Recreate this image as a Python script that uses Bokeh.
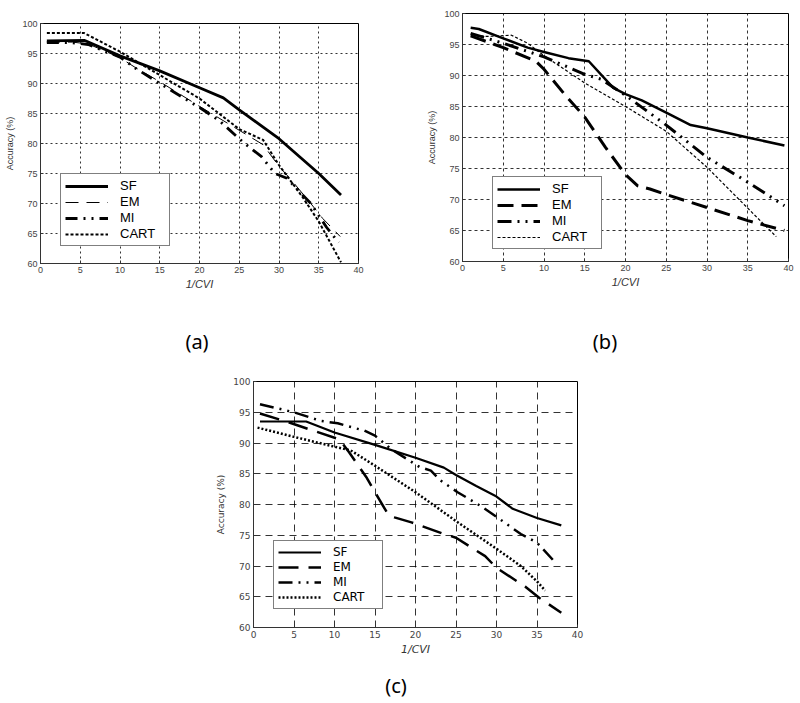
from bokeh.plotting import figure
from bokeh.models import FixedTicker, Legend, LegendItem, Spacer, Div
from bokeh.layouts import column, row
from bokeh.embed import file_html
from bokeh.resources import INLINE

# ---------------- data ----------------
x_ticks = [0, 5, 10, 15, 20, 25, 30, 35, 40]
y_ticks = [60, 65, 70, 75, 80, 85, 90, 95, 100]
series_names = ["SF", "EM", "MI", "CART"]

# (a)
a_sf_x = [0.8, 5.5, 10, 15, 20, 23, 25, 30, 35, 37.8]
a_sf_y = [97.1, 97.2, 94.6, 92.1, 89.3, 87.6, 85.6, 80.8, 75.0, 71.4]
a_em_x = [0.8, 4, 6, 10, 12, 15, 20, 22, 25, 28, 30, 31.5, 34, 35.5, 37.7]
a_em_y = [96.9, 96.9, 96.6, 94.3, 92.6, 90.3, 86.2, 84.6, 82.2, 79.8, 76.2, 74.0, 70.0, 67.5, 64.5]
a_mi_x = [0.8, 4, 6, 10, 12, 15, 20, 22.5, 25.5, 27.8, 29.5, 31, 34, 36, 37.5]
a_mi_y = [96.8, 96.8, 96.5, 94.4, 92.5, 90.0, 86.0, 83.8, 80.2, 77.8, 75.0, 74.2, 70.0, 66.0, 63.5]
a_cart_x = [0.8, 5.5, 10, 15, 20, 25, 28, 30, 33, 35, 37.8]
a_cart_y = [98.4, 98.4, 95.3, 91.4, 87.5, 82.4, 80.6, 76.4, 71.0, 67.0, 60.2]

# (b)
b_sf_x = [1, 2, 5, 8, 10, 13, 15.5, 18.5, 20, 22, 25, 28, 30, 35, 39.5]
b_sf_y = [97.7, 97.5, 96.0, 94.5, 93.8, 92.8, 92.3, 88.0, 87.0, 86.0, 84.0, 82.0, 81.5, 80.0, 78.7]
b_em_x = [1, 5, 9, 10, 12.5, 15, 17.5, 20, 21.5, 23, 25, 30, 35, 39.5]
b_em_y = [96.4, 94.5, 92.3, 91.0, 87.0, 83.3, 78.5, 74.0, 72.2, 71.7, 70.8, 68.7, 66.6, 65.0]
b_mi_x = [1, 5, 10, 15, 17, 20, 25, 30, 35, 39.5]
b_mi_y = [96.8, 95.2, 93.0, 90.2, 89.4, 86.8, 82.0, 76.8, 72.8, 69.0]
b_cart_x = [1, 3, 6, 8, 10, 15, 20, 25, 30, 35, 38.5]
b_cart_y = [96.5, 96.3, 96.5, 95.2, 93.2, 88.8, 85.0, 81.0, 75.2, 68.6, 64.0]

# (c)
c_sf_x = [0.8, 6.5, 10, 15, 20, 23.5, 25, 27.5, 30, 32, 35, 38]
c_sf_y = [93.5, 93.5, 91.7, 89.7, 87.6, 86.0, 84.8, 83.0, 81.3, 79.3, 77.8, 76.6]
c_em_x = [0.8, 4.5, 6.7, 10.6, 11.8, 14, 15, 16.7, 17.4, 19.5, 23.3, 25, 28.6, 30, 33.6, 35.3, 38]
c_em_y = [94.8, 93.3, 92.3, 90.6, 88.5, 84.3, 82.0, 78.2, 77.9, 77.1, 75.3, 74.6, 71.6, 69.7, 66.6, 64.8, 62.4]
c_mi_x = [0.8, 5, 8.3, 10.4, 13.7, 15, 17, 20.5, 21.9, 23.1, 25.2, 28, 30, 33, 35, 37.1]
c_mi_y = [96.3, 95.0, 93.6, 93.2, 92.0, 91.2, 89.0, 86.1, 85.5, 83.9, 82.0, 79.8, 78.0, 75.2, 73.8, 70.8]
c_cart_x = [0.5, 5, 10, 12, 15, 20, 25, 30, 33, 35, 36]
c_cart_y = [92.5, 91.0, 89.4, 88.8, 86.3, 82.0, 77.3, 72.8, 70.0, 67.5, 66.0]

captions = ["(a)", "(b)", "(c)"]


def make_fig(width, height, bl, br, bt, bb, font, grid_dash, series, styles,
             legend_loc, legend_font, shift=0):
    p = figure(width=width, height=height, x_range=(0, 40), y_range=(60, 100),
               output_backend="svg", toolbar_location=None, title=None,
               min_border_left=bl, min_border_right=br,
               min_border_top=bt, min_border_bottom=bb,
               background_fill_color="white", border_fill_color="white")
    if shift:
        p.styles = {"transform": f"translateY({shift}px)"}
    p.outline_line_color = "black"
    p.outline_line_width = 1
    for ax in (p.xaxis[0], p.yaxis[0]):
        ax.major_label_text_font = font
        ax.major_label_text_font_size = "9px"
        ax.major_label_text_color = "#444444"
        ax.axis_label_text_font = font
        ax.axis_label_text_color = "#333333"
        ax.axis_line_color = "#333333"
        ax.major_tick_in = 3
        ax.major_tick_out = 0
        ax.minor_tick_line_color = None
        ax.major_tick_line_color = "#333333"
        ax.major_label_standoff = 3
    p.xaxis.ticker = FixedTicker(ticks=x_ticks)
    p.yaxis.ticker = FixedTicker(ticks=y_ticks)
    p.xaxis.axis_label = "1/CVI"
    p.xaxis.axis_label_text_font_style = "italic"
    p.xaxis.axis_label_text_font_size = "11px"
    p.xaxis.axis_label_standoff = 2
    p.yaxis.axis_label = "Accuracy (%)"
    p.yaxis.axis_label_text_font_style = "normal"
    p.yaxis.axis_label_text_font_size = "9px"
    p.yaxis.axis_label_standoff = 4
    for g in (p.xgrid[0], p.ygrid[0]):
        g.grid_line_color = "black"
        g.grid_line_dash = grid_dash
        g.grid_line_width = 1
        g.grid_line_alpha = 0.8
    items = []
    for name, (xs, ys), (w, dash) in zip(series_names, series, styles):
        r = p.line(xs, ys, line_color="black", line_width=w, line_dash=dash)
        items.append(LegendItem(label=name, renderers=[r]))
    leg = Legend(items=items, location=legend_loc, glyph_width=43,
                 glyph_height=14, label_height=14, label_width=45,
                 label_standoff=12, spacing=1, padding=4, margin=0,
                 label_text_font=font, label_text_font_size=legend_font,
                 label_text_color="black",
                 border_line_color="black", border_line_width=1,
                 background_fill_color="white", background_fill_alpha=1.0)
    p.add_layout(leg, "center")
    return p


def caption_div(text, width, height, extra):
    st = {"text-align": "center", "font-size": "20px",
          "font-family": "Noto Sans", "line-height": "24px", "color": "black"}
    st.update(extra)
    return Div(text=text, width=width, height=height, margin=0, styles=st)


pa = make_fig(400, 330, 40, 42, 23, 67, "Liberation Sans", "2 3",
              [(a_sf_x, a_sf_y), (a_em_x, a_em_y), (a_mi_x, a_mi_y), (a_cart_x, a_cart_y)],
              [(2.8, "solid"), (1, "13 8"), (2.8, "12 6 2 6 2 6"), (2, "3 2")],
              (20, 17), "13px")
pb = make_fig(400, 338, 62, 12, 23, 67, "Liberation Sans", "3 3",
              [(b_sf_x, b_sf_y), (b_em_x, b_em_y), (b_mi_x, b_mi_y), (b_cart_x, b_cart_y)],
              [(2.5, "solid"), (3, "16 8"), (3, "14 6 2 6 2 6"), (1.2, "3 2")],
              (30, 12), "13px", shift=-10)
pc = make_fig(400, 300, 53, 23, 15, 39, "DejaVu Sans", "7 5",
              [(c_sf_x, c_sf_y), (c_em_x, c_em_y), (c_mi_x, c_mi_y), (c_cart_x, c_cart_y)],
              [(2.2, "solid"), (2.5, "20 10"), (2.5, "14 6 2 6 2 6"), (2.5, "2 2")],
              (20, 18), "12px")

shift_up = {"transform": "translateY(-8px)"}
cap_row1 = row(caption_div(captions[0], 394, 28, shift_up),
               caption_div(captions[1], 422, 28, shift_up))
row2 = row(Spacer(width=200, height=300), pc)
cap_row2 = row(Spacer(width=192, height=36),
               caption_div(captions[2], 408, 36, {"padding-top": "8px"}))

layout = column(row(pa, pb), cap_row1, row2, cap_row2)
open("out.html", "w").write(file_html(layout, INLINE))
